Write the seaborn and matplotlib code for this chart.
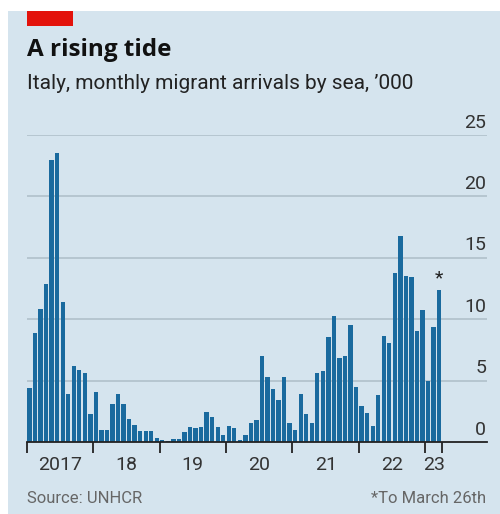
import matplotlib
matplotlib.use("Agg")
import matplotlib.pyplot as plt
import matplotlib.patches as mpatches
import numpy as np
import pandas as pd
import seaborn as sns

# Monthly sea arrivals to Italy, thousands (Jan 2017 - Mar 2023)
arrivals_2017 = [4.4, 8.9, 10.8, 12.9, 23.0, 23.5, 11.4, 3.9, 6.2, 5.9, 5.6, 2.3]
arrivals_2018 = [4.1, 1.0, 1.0, 3.1, 3.9, 3.1, 1.9, 1.4, 0.9, 0.9, 0.9, 0.3]
arrivals_2019 = [0.2, 0.06, 0.26, 0.26, 0.78, 1.2, 1.1, 1.25, 2.45, 2.0, 1.2, 0.57]
arrivals_2020 = [1.28, 1.14, 0.19, 0.6, 1.57, 1.76, 7.0, 5.26, 4.34, 3.42, 5.29, 1.52]
arrivals_2021 = [0.95, 3.93, 2.3, 1.52, 5.6, 5.8, 8.55, 10.23, 6.87, 7.03, 9.5, 4.48]
arrivals_2022 = [2.96, 2.36, 1.3, 3.85, 8.66, 8.1, 13.76, 16.77, 13.5, 13.46, 9.0, 10.77]
arrivals_2023 = [4.94, 9.4, 12.35]

year_labels = ["2017", "18", "19", "20", "21", "22", "23"]
y_ticks = [0, 5, 10, 15, 20, 25]

values = (arrivals_2017 + arrivals_2018 + arrivals_2019 + arrivals_2020
          + arrivals_2021 + arrivals_2022 + arrivals_2023)
months = pd.date_range("2017-01-01", periods=len(values), freq="MS")
df = pd.DataFrame({"month": months.strftime("%Y-%m"), "arrivals": values})

BG = "#d5e4ee"
BLUE = "#1a6a9e"
GRID = "#b3c3cd"
RED = "#e3120b"

sns.set_theme(style="white")
plt.rcParams["font.family"] = ["Roboto", "DejaVu Sans"]

W, H = 500, 514
fig = plt.figure(figsize=(W / 100, H / 100), dpi=100)
fig.patch.set_facecolor("white")

# panel background and red tag
fig.patches.append(mpatches.Rectangle((8 / W, 0), 1 - 8 / W, (H - 11) / H,
                                      transform=fig.transFigure,
                                      facecolor=BG, edgecolor="none", zorder=-10))
fig.patches.append(mpatches.Rectangle((27 / W, (H - 26) / H), 46 / W, 15 / H,
                                      transform=fig.transFigure,
                                      facecolor=RED, edgecolor="none", zorder=-5))

ax = fig.add_axes([26.7 / W, 72 / H, 460.3 / W, 307 / H])
ax.set_facecolor("none")
ax.set_zorder(2)

sns.barplot(data=df, x="month", y="arrivals", color=BLUE, saturation=1,
            width=0.78, linewidth=0, ax=ax, zorder=3)

n = len(values)
ax.set_xlim(-0.5, 82.65)
ax.set_ylim(0, 25)

# horizontal gridlines with labels sitting on their right ends
ax.set_yticks(y_ticks)
ax.tick_params(axis="y", left=False, right=False, labelleft=False)
for v in y_ticks[1:]:
    ax.axhline(v, color=GRID, lw=1.3, zorder=1)
for v in y_ticks:
    ax.text(0.998, v + 0.28, str(v), transform=ax.get_yaxis_transform(),
            ha="right", va="bottom", fontsize=14, color="#333333")

# year boundaries as ticks, year names centred between them
bounds = [-0.5 + 12 * k for k in range(7)] + [n - 0.5]
centres = [(bounds[i] + bounds[i + 1]) / 2 for i in range(7)]
ax.set_xticks(bounds)
ax.set_xticklabels([""] * len(bounds))
ax.set_xticks(centres, minor=True)
ax.set_xticklabels(year_labels, minor=True)
ax.tick_params(axis="x", which="major", bottom=True, length=8, width=1.3,
               color="#222222", direction="out")
ax.tick_params(axis="x", which="minor", bottom=True, length=0, pad=10,
               labelsize=14, labelcolor="#333333")
ax.set_xlabel("")
ax.set_ylabel("")

for side in ["top", "right", "left"]:
    ax.spines[side].set_visible(False)
ax.spines["bottom"].set_color("#222222")
ax.spines["bottom"].set_linewidth(1.3)
ax.spines["bottom"].set_bounds(-0.5, 82.65)
ax.spines["bottom"].set_zorder(4)

# footnote marker on the partial month
ax.text(n - 1, values[-1] + 0.25, "*", ha="center", va="bottom",
        fontsize=14, color="#222222")

fig.text(27 / W, 1 - 56 / H, "A rising tide", fontsize=17.5,
         fontweight="bold", color="#111111", va="baseline",
         family=["Open Sans", "DejaVu Sans"])
fig.text(27 / W, 1 - 89 / H, "Italy, monthly migrant arrivals by sea, \u2019000",
         fontsize=15, color="#222222", va="baseline")
fig.text(27 / W, 1 - 503 / H, "Source: UNHCR", fontsize=12,
         color="#666666", va="baseline")
fig.text(486 / W, 1 - 503 / H, "*To March 26th", fontsize=12,
         color="#666666", va="baseline", ha="right")

fig.savefig("out.png", dpi=100, facecolor=fig.get_facecolor())
